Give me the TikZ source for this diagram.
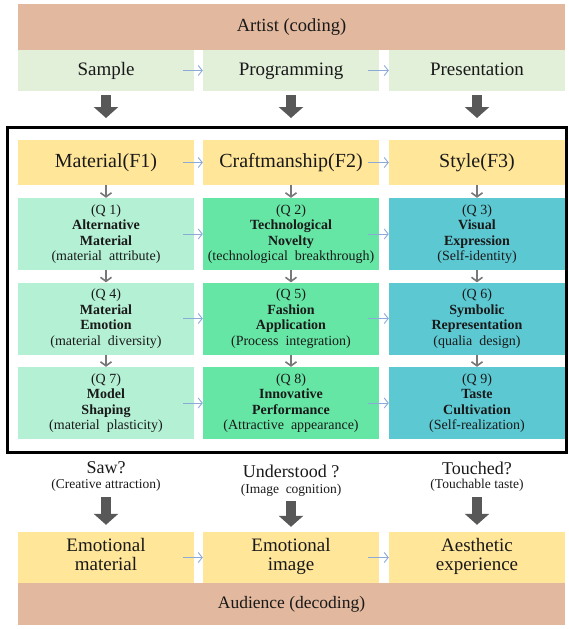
\documentclass[tikz,border=0pt]{standalone}
\usepackage{fontspec}
\setmainfont{Liberation Serif}
\usetikzlibrary{positioning,arrows.meta,calc}
\definecolor{artTan}{RGB}{226,184,158}
\definecolor{stepGreen}{RGB}{226,239,217}
\definecolor{factYellow}{RGB}{255,230,153}
\definecolor{qMint}{RGB}{180,240,212}
\definecolor{qGreen}{RGB}{102,230,165}
\definecolor{qTeal}{RGB}{92,200,210}
\definecolor{flowBlue}{RGB}{140,170,215}
\definecolor{flowGray}{RGB}{120,120,120}
\definecolor{blockGray}{RGB}{88,88,88}
\definecolor{inkText}{RGB}{25,25,25}

\begin{document}
\begin{tikzpicture}[x=1pt, y=-1pt, every node/.style={text=inkText, inner sep=0pt}]
  \tikzset{
    bar/.style={fill=artTan, minimum width=547pt, minimum height=46pt, font=\fontsize{18.5}{20}\selectfont},
    phase/.style={fill=stepGreen, minimum width=176pt, minimum height=41pt, text height=13pt, text depth=4pt, font=\fontsize{19}{21}\selectfont},
    factor/.style={fill=factYellow, minimum width=176pt, minimum height=45pt, text height=14pt, text depth=4pt, font=\fontsize{20}{22}\selectfont},
    qbox/.style={minimum width=176pt, minimum height=72pt, align=center, font=\fontsize{14}{15.5}\selectfont},
    effect/.style={fill=factYellow, minimum width=176pt, minimum height=51pt, align=center, font=\fontsize{19}{19}\selectfont},
    ask/.style={font=\fontsize{18}{20}\selectfont},
    asksub/.style={font=\fontsize{13.5}{15}\selectfont},
    thin flow/.style={draw=flowBlue, line width=0.9pt, -{Straight Barb[length=4pt,width=10pt]}},
    down flow/.style={draw=flowGray, line width=1.6pt, -{Straight Barb[length=4pt,width=11pt]}},
    fat arrow/.style={draw=blockGray, line width=10pt, -{Triangle[length=11pt,width=24pt]}}
  }
  \useasboundingbox (0,0) rectangle (568,629);

  % artist side
  \node[bar] (artist) at (291.5,27) {Artist (coding)};
  \node[phase] (sample) at (106,70.5) {Sample};
  \node[phase] (prog)   at (291,70.5) {Programming};
  \node[phase] (pres)   at (477,70.5) {Presentation};
  \draw[thin flow] ([xshift=-11pt]sample.east) -- (prog.west);
  \draw[thin flow] ([xshift=-11pt]prog.east) -- (pres.west);

  \draw[line width=3pt] (7,127) rectangle (566.5,452);

  % factors and questions
  \node[factor] (mat)   at (106,162.5) {Material(F1)};
  \node[factor] (craft) at (291,162.5) {Craftmanship(F2)};
  \node[factor] (style) at (477,162.5) {Style(F3)};

  \node[qbox, fill=qMint]  (q1) at (106,234) {(Q 1)\\\textbf{Alternative}\\\textbf{Material}\\(material\ \ attribute)};
  \node[qbox, fill=qGreen] (q2) at (291,234) {(Q 2)\\\textbf{Technological}\\\textbf{Novelty}\\(technological\ \ breakthrough)};
  \node[qbox, fill=qTeal]  (q3) at (477,234) {(Q 3)\\\textbf{Visual}\\\textbf{Expression}\\(Self-identity)};
  \node[qbox, fill=qMint]  (q4) at (106,318.5) {(Q 4)\\\textbf{Material}\\\textbf{Emotion}\\(material\ \ diversity)};
  \node[qbox, fill=qGreen] (q5) at (291,318.5) {(Q 5)\\\textbf{Fashion}\\\textbf{Application}\\(Process\ \ integration)};
  \node[qbox, fill=qTeal]  (q6) at (477,318.5) {(Q 6)\\\textbf{Symbolic}\\\textbf{Representation}\\(qualia\ \ design)};
  \node[qbox, fill=qMint]  (q7) at (106,403) {(Q 7)\\\textbf{Model}\\\textbf{Shaping}\\(material\ \ plasticity)};
  \node[qbox, fill=qGreen] (q8) at (291,403) {(Q 8)\\\textbf{Innovative}\\\textbf{Performance}\\(Attractive\ \ appearance)};
  \node[qbox, fill=qTeal]  (q9) at (477,403) {(Q 9)\\\textbf{Taste}\\\textbf{Cultivation}\\(Self-realization)};

  \draw[thin flow] ([xshift=-11pt]mat.east) -- (craft.west);
  \draw[thin flow] ([xshift=-11pt]craft.east) -- (style.west);
  \foreach \a/\b in {q1/q2, q2/q3, q4/q5, q5/q6, q7/q8, q8/q9}
    \draw[thin flow] ([xshift=-11pt]\a.east) -- (\b.west);
  \foreach \a/\b in {mat/q1, craft/q2, style/q3, q1/q4, q2/q5, q3/q6, q4/q7, q5/q8, q6/q9}
    \draw[down flow] (\a.south) -- (\b.north);

  % into the frame
  \coordinate (sampleTip) at (106,118);
  \coordinate (progTip)   at (291,118);
  \coordinate (presTip)   at (477,118);
  \draw[fat arrow] ([yshift=-4pt]sample.south) -- (sampleTip);
  \draw[fat arrow] ([yshift=-4pt]prog.south) -- (progTip);
  \draw[fat arrow] ([yshift=-4pt]pres.south) -- (presTip);

  % audience side
  \node[ask]    (saw)     at (106,468) {Saw?};
  \node[asksub] (sawwhy)  at (106,485) {(Creative attraction)};
  \node[ask]    (under)   at (291,471) {Understood ?};
  \node[asksub] (underwhy) at (291,490) {(Image\ \ cognition)};
  \node[ask]    (touch)   at (477,468) {Touched?};
  \node[asksub] (touchwhy) at (477,485) {(Touchable taste)};

  \node[effect] (emomat) at (106,557.5) {Emotional\\material\strut};
  \node[effect] (emoimg) at (291,557.5) {Emotional\\image\strut};
  \node[effect] (aesth)  at (477,557.5) {Aesthetic\\experience\strut};
  \node[bar, minimum height=42pt, font=\fontsize{17.5}{19}\selectfont] (audience) at (291.5,604) {Audience (decoding)};

  \draw[thin flow] ([xshift=-11pt]emomat.east) -- (emoimg.west);
  \draw[thin flow] ([xshift=-11pt]emoimg.east) -- (aesth.west);

  \coordinate (matTip) at ([yshift=7pt]emomat.north);
  \coordinate (imgTip) at ([yshift=5pt]emoimg.north);
  \coordinate (expTip) at ([yshift=7pt]aesth.north);
  \draw[fat arrow] ([yshift=-6pt]sawwhy.south) -- (matTip);
  \draw[fat arrow] ([yshift=-5pt]underwhy.south) -- (imgTip);
  \draw[fat arrow] ([yshift=-6pt]touchwhy.south) -- (expTip);
\end{tikzpicture}
\end{document}
